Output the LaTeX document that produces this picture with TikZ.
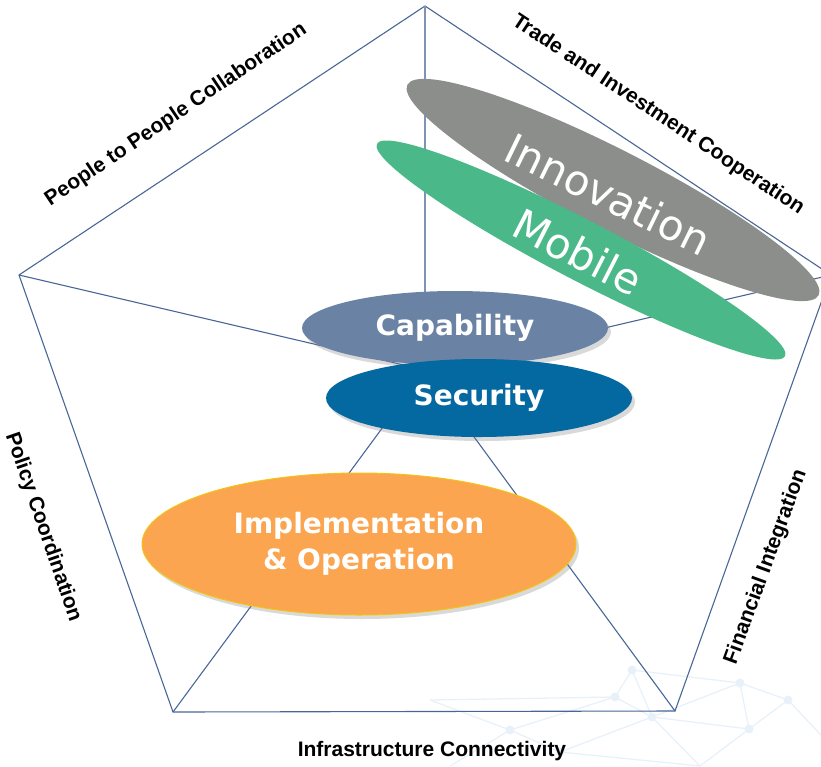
\documentclass[tikz,border=0pt]{standalone}
\usepackage{fontspec}
\usepackage{xcolor}
\usepackage{tikz}
\usetikzlibrary{shapes.geometric,shadows,positioning}
\newfontfamily\labelfont{Liberation Sans}
\newfontfamily\blobfont{DejaVu Sans}
\definecolor{edgeblue}{RGB}{72,102,150}
\definecolor{capblue}{RGB}{106,131,164}
\definecolor{secblue}{RGB}{4,104,161}
\definecolor{implorange}{RGB}{251,165,80}
\definecolor{implrim}{RGB}{243,196,20}
\definecolor{innovgray}{RGB}{140,142,140}
\definecolor{mobilegreen}{RGB}{74,184,136}
\definecolor{netblue}{RGB}{232,241,249}

\begin{document}
\begin{tikzpicture}[y=-1pt,x=1pt,
	edge/.style={draw=edgeblue, line width=1.1pt},
	net/.style={draw=netblue, line width=1.3pt},
	blob/.style={ellipse, inner sep=0pt},
	shade blob/.style={blob, drop shadow={shadow xshift=3pt, shadow yshift=-4pt, opacity=0.3}},
	word/.style={text=white, font={\blobfont\bfseries\fontsize{28}{36}\selectfont}, align=center},
	bigword/.style={text=white, font={\blobfont\fontsize{42}{42}\selectfont}},
	side/.style={font={\labelfont\bfseries\fontsize{21}{21}\selectfont}}]
	\useasboundingbox (0,0) rectangle (821,766);

	\coordinate (n1) at (632,670);
	\coordinate (n2) at (615,697);
	\coordinate (n3) at (652,717);
	\coordinate (n4) at (740,683);
	\coordinate (n5) at (749,729);
	\coordinate (n6) at (788,700);
	\coordinate (n7) at (510,730);
	\coordinate (n8) at (560,752);
	\coordinate (n9) at (700,766);
	\coordinate (n10) at (821,735);
	\coordinate (n11) at (450,766);
	\coordinate (n12) at (430,700);
	\foreach \a/\b in {n1/n2,n1/n3,n2/n3,n1/n4,n3/n4,n3/n5,n4/n5,n4/n6,n5/n6,n6/n10,n5/n9,n3/n9,n2/n7,n7/n8,n8/n3,n7/n11,n8/n9,n12/n7,n12/n2}
		\draw[net] (\a) -- (\b);
	\foreach \n in {n1,n2,n3,n4,n5,n6,n7,n8}
		\fill[netblue] (\n) circle (4.5);

	\coordinate (top) at (425,6);
	\coordinate (left) at (19,275);
	\coordinate (right) at (831,275);
	\coordinate (botleft) at (173,712);
	\coordinate (botright) at (675,711);
	\coordinate (hub) at (425,370);

	\draw[edge] (top) -- (right) -- (botright) -- (botleft) -- (left) -- cycle;
	\draw[edge] (left) -- (hub) -- (right);
	\draw[edge] (botleft) -- (hub) -- (botright);
	\draw[edge, draw=edgeblue!70, line width=2.2pt] (top) -- (hub);

	\node[blob, fill=innovgray, minimum width=462, minimum height=80, rotate=-27.1] (innov) at (613,190) {};
	\node[blob, fill=mobilegreen, minimum width=460, minimum height=60, rotate=-27.5] (mobile) at (581,250) {};
	\node[bigword, rotate=-26] (innovtext) at (608,194) {Innovation};
	\node[bigword, rotate=-27] (mobiletext) at (578,252) {Mobile};

	\node[shade blob, fill=capblue, minimum width=306, minimum height=74, word] (capability) at (455,328) {Capability};
	\node[shade blob, fill=secblue, minimum width=306, minimum height=78, word] (security) at (479,398) {Security};
	\node[shade blob, fill=implorange, draw=implrim, line width=1pt, minimum width=434, minimum height=142, word] (impl) at (359,544) {Implementation\\\& Operation};

	\node[side, rotate=34] (people) at (176,115) {People to People Collaboration};
	\node[side, rotate=-33.5] (trade) at (658,115) {Trade and Investment Cooperation};
	\node[side, rotate=-71] (policy) at (43,527) {Policy Coordination};
	\node[side, rotate=70] (finance) at (766,567) {Financial Integration};
	\node[side] (infra) at (432,751) {Infrastructure Connectivity};
\end{tikzpicture}
\end{document}
